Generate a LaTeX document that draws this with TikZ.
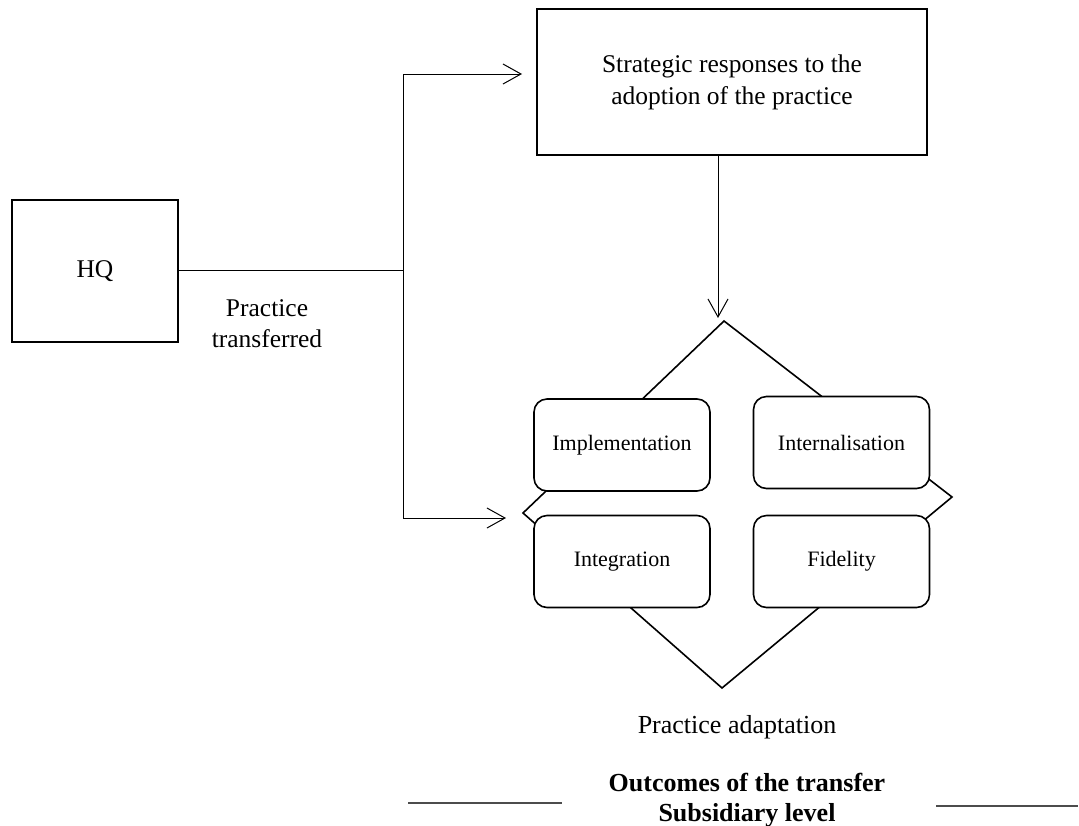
\documentclass[tikz,border=0pt]{standalone}
\usepackage{fontspec}
\setmainfont{Liberation Serif}
\usetikzlibrary{arrows.meta}

\begin{document}
\begin{tikzpicture}[x=0.5pt, y=-0.5pt,
		plainbox/.style={draw, line width=1.1pt, inner sep=0pt, align=center,
			font=\fontsize{12.75}{16}\selectfont},
		outcomebox/.style={draw, line width=0.8pt, fill=white, rounded corners=6.5pt,
			minimum width=88pt, minimum height=46pt, inner sep=0pt,
			font=\fontsize{11}{13}\selectfont},
		arr/.style={-{Straight Barb[length=9pt, width=10pt]}, line width=0.5pt}]
		\useasboundingbox (0,0) rectangle (1079,825);

		% left and top boxes
		\node[plainbox, minimum width=83pt, minimum height=71pt] (hq) at (95,271) {HQ};
		\node[plainbox, minimum width=195pt, minimum height=73pt] (strat) at (732,82)
			{Strategic responses to the\\adoption of the practice};

		\coordinate (split) at (403,270);
		\coordinate (intop) at (522,74);
		\coordinate (inbot) at (506,518);
		\coordinate (dtip) at (718,318);

		% diamond behind the outcome boxes
		\coordinate (dtop) at (724,321);
		\coordinate (dright) at (952,497);
		\coordinate (dbot) at (722,688);
		\coordinate (dleft) at (523,513);
		\draw[line width=0.8pt] (dtop) -- (dright) -- (dbot) -- (dleft) -- cycle;

		\node[outcomebox] (impl) at (622,445) {Implementation};
		\node[outcomebox] (intern) at (841.5,442.5) {Internalisation};
		\node[outcomebox] (integ) at (622,561.5) {Integration};
		\node[outcomebox] (fid) at (841.5,561.5) {Fidelity};

		% connectors
		\draw[line width=0.5pt] (hq.east |- split) -- (split);
		\draw[arr] (split) |- (intop);
		\draw[arr] (split) |- (inbot);
		\draw[arr] (strat.south -| dtip) -- (dtip);

		% labels
		\node[align=center, font=\fontsize{12.75}{15.5}\selectfont] (transf) at (267,324)
			{Practice\\transferred};
		\node[font=\fontsize{13}{15}\selectfont] (adapt) at (737,727) {Practice adaptation};
		\node[align=center, font=\fontsize{13}{15}\selectfont\bfseries] (level) at (747,800)
			{Outcomes of the transfer\\Subsidiary level};

		\coordinate (la) at (408,803);
		\coordinate (lb) at (562,803);
		\coordinate (ra) at (936,806);
		\coordinate (rb) at (1078,806);
		\draw[line width=0.8pt, black!70] (la) -- (lb);
		\draw[line width=0.8pt, black!70] (ra) -- (rb);
	\end{tikzpicture}
\end{document}
